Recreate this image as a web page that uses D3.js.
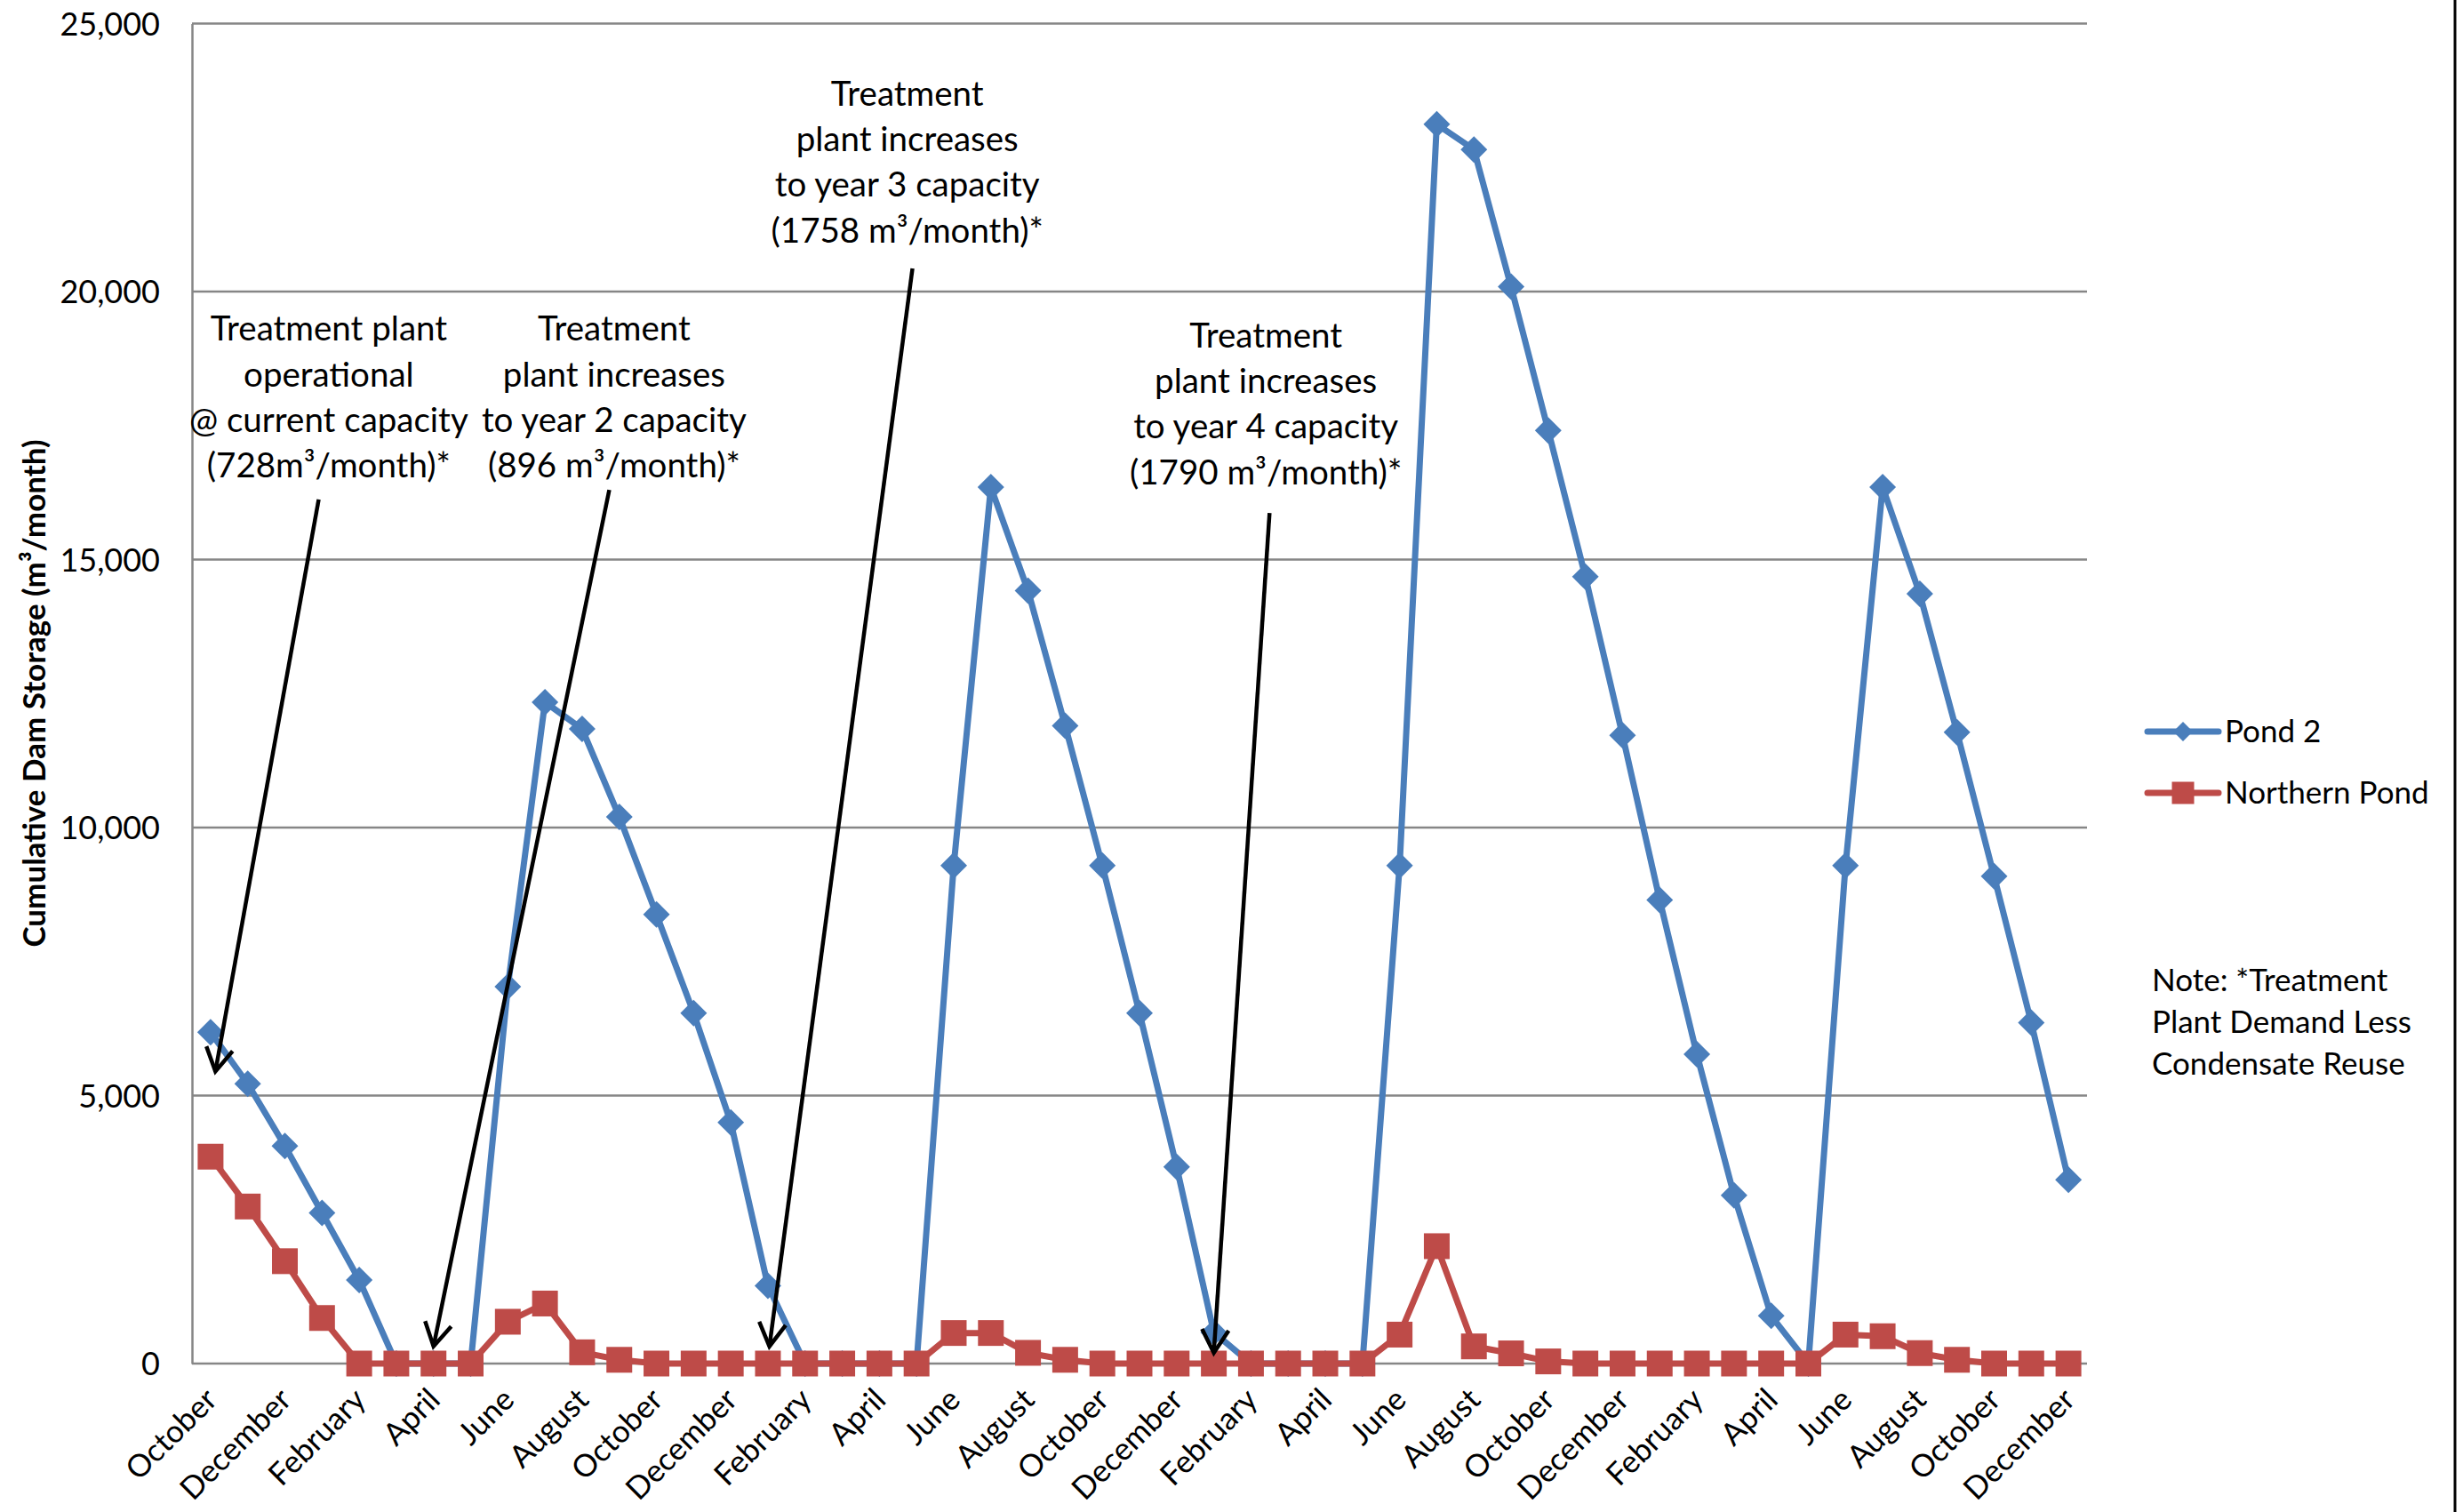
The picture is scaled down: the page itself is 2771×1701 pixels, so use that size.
<!DOCTYPE html>
<html>
<head>
<meta charset="utf-8">
<script src="https://cdn.jsdelivr.net/npm/d3@7/dist/d3.min.js"></script>
<style>
  html, body { margin: 0; padding: 0; background: #fff; }
  svg text { font-family: Lato, "Open Sans", sans-serif; fill: #000; }
</style>
</head>
<body>
<svg id="chart" width="2771" height="1701"></svg>
<script>
// Monthly categories, October through December four years later
const months = [
  "October","November","December",
  "January","February","March","April","May","June","July","August","September","October","November","December",
  "January","February","March","April","May","June","July","August","September","October","November","December",
  "January","February","March","April","May","June","July","August","September","October","November","December",
  "January","February","March","April","May","June","July","August","September","October","November","December"
];

// Cumulative dam storage (m³/month)
const pond2 = [
  6180, 5220, 4060,
  2810, 1560, 0, 0, 0, 7030, 12340, 11840, 10200, 8380, 6540, 4500,
  1450, 0, 0, 0, 0, 9290, 16350, 14420, 11900, 9290, 6540, 3670,
  580, 0, 0, 0, 0, 9290, 23120, 22650, 20090, 17410, 14680, 11720,
  8650, 5770, 3140, 890, 0, 9290, 16350, 14360, 11780, 9090, 6360, 3430
];
const northernPond = [
  3860, 2930, 1910,
  850, 0, 0, 0, 0, 780, 1120, 210, 70, 0, 0, 0,
  0, 0, 0, 0, 0, 570, 570, 200, 70, 0, 0, 0,
  0, 0, 0, 0, 0, 540, 2190, 320, 190, 40, 0, 0,
  0, 0, 0, 0, 0, 540, 510, 195, 70, 0, 0, 0
];

const seriesNames = ["Pond 2", "Northern Pond"];
const yTickValues = [0, 5000, 10000, 15000, 20000, 25000];
const yAxisTitle = "Cumulative Dam Storage (m³/month)";

// Call-outs: text anchored at [month index, storage], arrow from -> to in the same units
const calloutText = [
  ["Treatment plant", "operational", "@ current capacity", "(728m³/month)*"],
  ["Treatment", "plant increases", "to year 2 capacity", "(896 m³/month)*"],
  ["Treatment", "plant increases", "to year 3 capacity", "(1758 m³/month)*"],
  ["Treatment", "plant increases", "to year 4 capacity", "(1790 m³/month)*"]
];
const calloutAnchor = [[3.18, 19080], [10.86, 19080], [18.75, 23470], [28.40, 18960]];
const arrowFrom = [[2.91, 16120], [10.73, 16300], [18.89, 20430], [28.50, 15870]];
const arrowTo = [[0.13, 5450], [6.0, 320], [15.04, 320], [27.0, 200]];

const noteLines = ["Note: *Treatment", "Plant Demand Less", "Condensate Reuse"];

// ---- layout ----
const plot = { left: 216, right: 2348, top: 26.5, bottom: 1534 };
const colors = { pond2: "#4a7ebb", northern: "#be4b48", grid: "#868686" };

const svg = d3.select("#chart");
svg.append("rect").attr("width", 2771).attr("height", 1701).attr("fill", "#fff");

const idx = d3.range(months.length);
const x = d3.scalePoint().domain(idx).range([plot.left, plot.right]).padding(0.5);
const xc = d3.scaleLinear().domain([0, months.length - 1]).range([x(0), x(months.length - 1)]);
const y = d3.scaleLinear().domain([0, 25000]).range([plot.bottom, plot.top]);

// Horizontal gridlines
svg.append("g")
  .selectAll("line")
  .data(yTickValues.filter(v => v > 0))
  .join("line")
  .attr("x1", plot.left).attr("x2", plot.right)
  .attr("y1", d => y(d)).attr("y2", d => y(d))
  .attr("stroke", colors.grid).attr("stroke-width", 2.5);

// Y axis
const yAxis = svg.append("g")
  .attr("transform", `translate(${plot.left},0)`)
  .call(d3.axisLeft(y).tickValues(yTickValues).tickSize(0).tickPadding(36)
        .tickFormat(d3.format(",")));
yAxis.select(".domain").attr("stroke", colors.grid).attr("stroke-width", 2.5);
yAxis.selectAll("text").attr("font-size", 36).attr("font-family", "Lato").attr("dy", "0.35em");

// X axis (every second month labelled)
const xAxis = svg.append("g")
  .attr("transform", `translate(0,${plot.bottom})`)
  .call(d3.axisBottom(x).tickValues(idx.filter(i => i % 2 === 0)).tickSize(0)
        .tickFormat(i => months[i]));
xAxis.select(".domain").attr("stroke", colors.grid).attr("stroke-width", 2.5)
  .attr("d", `M${plot.left},0H${plot.right}`);
xAxis.selectAll("text")
  .attr("font-size", 35).attr("font-family", "Lato")
  .attr("text-anchor", "end")
  .attr("x", 0).attr("y", 0).attr("dy", "0.72em")
  .attr("transform", "translate(-9,25) rotate(-45)");

// Y axis title
svg.append("text")
  .attr("transform", `translate(39,780) rotate(-90)`)
  .attr("text-anchor", "middle").attr("dy", "0.35em")
  .attr("font-size", 35).attr("font-weight", "bold")
  .text(yAxisTitle);

// Series
const line = d3.line().x((d, i) => x(i)).y(d => y(d));
const diamond = r => `M0,${-r}L${r},0L0,${r}L${-r},0Z`;
const square = s => `M${-s / 2},${-s / 2}h${s}v${s}h${-s}Z`;

function drawSeries(values, color, marker) {
  const g = svg.append("g");
  g.append("path").datum(values)
    .attr("d", line).attr("fill", "none").attr("stroke", color)
    .attr("stroke-width", 7).attr("stroke-linejoin", "round").attr("stroke-linecap", "round");
  g.selectAll("path.m").data(values).join("path").attr("class", "m")
    .attr("transform", (d, i) => `translate(${x(i)},${y(d)})`)
    .attr("d", marker).attr("fill", color);
}
drawSeries(pond2, colors.pond2, diamond(15));
drawSeries(northernPond, colors.northern, square(29));

// Call-outs with arrows
const callouts = svg.append("g");
calloutText.forEach((lines, k) => {
  const [ai, av] = calloutAnchor[k];
  const t = callouts.append("text")
    .attr("text-anchor", "middle").attr("font-size", 38.5);
  lines.forEach((s, j) => {
    t.append("tspan").attr("x", xc(ai)).attr("y", y(av) + j * 51.3).text(s);
  });
  const x1 = xc(arrowFrom[k][0]), y1 = y(arrowFrom[k][1]);
  const x2 = xc(arrowTo[k][0]), y2 = y(arrowTo[k][1]);
  callouts.append("line")
    .attr("x1", x1).attr("y1", y1).attr("x2", x2).attr("y2", y2)
    .attr("stroke", "#000").attr("stroke-width", 4.5);
  const ang = Math.atan2(y1 - y2, x1 - x2);
  const len = 30, spread = Math.PI / 6;
  const p1 = [x2 + len * Math.cos(ang - spread), y2 + len * Math.sin(ang - spread)];
  const p2 = [x2 + len * Math.cos(ang + spread), y2 + len * Math.sin(ang + spread)];
  callouts.append("path")
    .attr("d", `M${p1[0]},${p1[1]}L${x2},${y2}L${p2[0]},${p2[1]}`)
    .attr("fill", "none").attr("stroke", "#000").attr("stroke-width", 4.5)
    .attr("stroke-linejoin", "miter");
});

// Legend
const legend = svg.append("g").attr("transform", "translate(2416,0)");
const legendItems = [
  { name: seriesNames[0], color: colors.pond2, marker: diamond(11), cy: 823 },
  { name: seriesNames[1], color: colors.northern, marker: square(25), cy: 892 }
];
legendItems.forEach(it => {
  legend.append("line").attr("x1", 0).attr("x2", 80).attr("y1", it.cy).attr("y2", it.cy)
    .attr("stroke", it.color).attr("stroke-width", 7).attr("stroke-linecap", "round");
  legend.append("path").attr("transform", `translate(40,${it.cy})`).attr("d", it.marker).attr("fill", it.color);
  legend.append("text").attr("x", 87).attr("y", it.cy).attr("dy", "0.35em")
    .attr("font-size", 35).text(it.name);
});

// Note
const note = svg.append("text").attr("font-size", 35);
noteLines.forEach((s, j) => note.append("tspan").attr("x", 2421).attr("y", 1115 + j * 47).text(s));

// Outer border on the right edge
svg.append("line").attr("x1", 2762).attr("x2", 2762).attr("y1", 0).attr("y2", 1701)
  .attr("stroke", "#000").attr("stroke-width", 3);
</script>
</body>
</html>
